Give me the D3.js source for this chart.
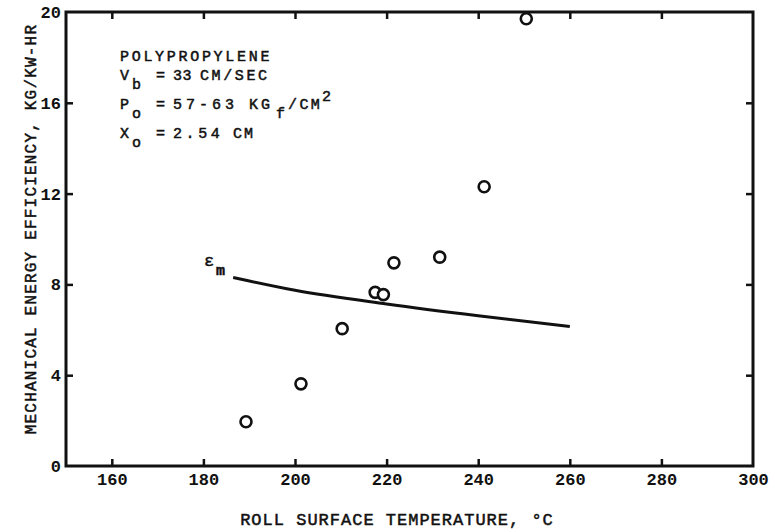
<!DOCTYPE html>
<html><head><meta charset="utf-8">
<script src="https://cdn.jsdelivr.net/npm/d3@7"></script>
<style>
body{margin:0;background:#fff;}
svg text{font-family:"Liberation Mono","DejaVu Sans Mono",monospace;fill:#111;}
.heavy{stroke:#111;stroke-width:0.5px;}
</style></head>
<body><svg id="c" width="775" height="532"></svg>
<script>
// Data
const pointTemp = [189.3, 201.3, 210.3, 217.5, 219.3, 221.6, 231.6, 241.3, 250.5];
const pointEff  = [1.95, 3.62, 6.05, 7.65, 7.55, 8.95, 9.2, 12.3, 19.7];
const curveTemp = [186.5, 200, 220, 240, 260];
const curveEff  = [8.30, 7.74, 7.14, 6.62, 6.15];
const xTicks = [160, 180, 200, 220, 240, 260, 280, 300];
const yTicks = [0, 4, 8, 12, 16, 20];
const xTitle = "ROLL SURFACE TEMPERATURE, °C";
const yTitle = "MECHANICAL ENERGY EFFICIENCY, KG/KW-HR";

const svg = d3.select("#c");
const x = d3.scaleLinear().domain([150, 300]).range([66, 753]);
const y = d3.scaleLinear().domain([0, 20]).range([466, 12]);
const ink = "#111";

// frame
svg.append("rect").attr("x", x(150)).attr("y", y(20))
  .attr("width", x(300) - x(150)).attr("height", y(0) - y(20))
  .attr("fill", "none").attr("stroke", ink).attr("stroke-width", 3);

const gx = svg.append("g").attr("transform", `translate(0,${y(0)})`)
  .call(d3.axisBottom(x).tickValues(xTicks).tickSizeInner(-7).tickSizeOuter(0).tickPadding(7));
const gxt = svg.append("g").attr("transform", `translate(0,${y(20)})`)
  .call(d3.axisTop(x).tickValues(xTicks.slice(0, -1)).tickSizeInner(-7).tickSizeOuter(0).tickFormat(""));
const gy = svg.append("g").attr("transform", `translate(${x(150)},0)`)
  .call(d3.axisLeft(y).tickValues(yTicks).tickSizeInner(-7).tickSizeOuter(0).tickPadding(5));
const gyr = svg.append("g").attr("transform", `translate(${x(300)},0)`)
  .call(d3.axisRight(y).tickValues(yTicks.slice(1, -1)).tickSizeInner(-7).tickSizeOuter(0).tickFormat(""));

[gx, gxt, gy, gyr].forEach(g => {
  g.select(".domain").remove();
  g.selectAll(".tick line").attr("stroke", ink).attr("stroke-width", 2.5);
  g.selectAll(".tick text").attr("font-size", 17).attr("font-weight", "bold")
    .attr("font-family", "Liberation Mono, monospace").attr("fill", ink);
});
gx.selectAll(".tick line").filter(d => d === 300).remove();
gy.selectAll(".tick line").filter(d => d === 0 || d === 20).remove();

// curve
const line = d3.line().x((d, i) => x(curveTemp[i])).y((d, i) => y(curveEff[i])).curve(d3.curveMonotoneX);
svg.append("path").datum(curveEff).attr("d", line)
  .attr("fill", "none").attr("stroke", ink).attr("stroke-width", 3);

// points
svg.append("g").selectAll("circle").data(pointTemp).join("circle")
  .attr("cx", d => x(d)).attr("cy", (d, i) => y(pointEff[i])).attr("r", 5.5)
  .attr("fill", "#fff").attr("stroke", ink).attr("stroke-width", 2.6);

// epsilon label
const eps = svg.append("text").attr("class", "heavy").attr("x", 204).attr("y", 266).attr("font-size", 17);
eps.append("tspan").text("ε");
eps.append("tspan").attr("x", 216).attr("dy", 9).attr("font-size", 15).attr("font-weight", "bold").text("m");

// annotation
const ann = svg.append("g").attr("font-size", 15).attr("class", "heavy");
ann.append("text").attr("x", 120).attr("y", 61).attr("letter-spacing", 2.7).text("POLYPROPYLENE");
function seg(t, xp, txt, dy, ls) {
  return t.append("tspan").attr("x", xp).attr("dy", dy || 0).attr("letter-spacing", ls || 0).text(txt);
}
const v = ann.append("text").attr("y", 80);
seg(v, 120, "V"); seg(v, 132, "b", 9); seg(v, 156, "=", -9); seg(v, 173, "33", 0, 0.5); seg(v, 200, "CM/SEC", 0, 2.6);
const p = ann.append("text").attr("y", 109);
seg(p, 120, "P"); seg(p, 132, "o", 9); seg(p, 156, "=", -9); seg(p, 173, "57-63", 0, 4);
seg(p, 249, "KG", 0, 3); seg(p, 276, "f", 9); seg(p, 288, "/CM", -9, 2.4); seg(p, 322, "2", -8);
const xo = ann.append("text").attr("y", 138);
seg(xo, 120, "X"); seg(xo, 132, "o", 9); seg(xo, 156, "=", -9); seg(xo, 173, "2.54", 0, 3.6); seg(xo, 233, "CM", 0, 2);

// axis titles
svg.append("text").attr("class", "heavy").attr("x", 397).attr("y", 525)
  .attr("text-anchor", "middle").attr("font-size", 17).attr("letter-spacing", 1).text(xTitle);
svg.append("text").attr("class", "heavy").attr("transform", `translate(36,229) rotate(-90)`)
  .attr("text-anchor", "middle").attr("font-size", 16).attr("letter-spacing", 1.2).text(yTitle);
</script></body></html>
